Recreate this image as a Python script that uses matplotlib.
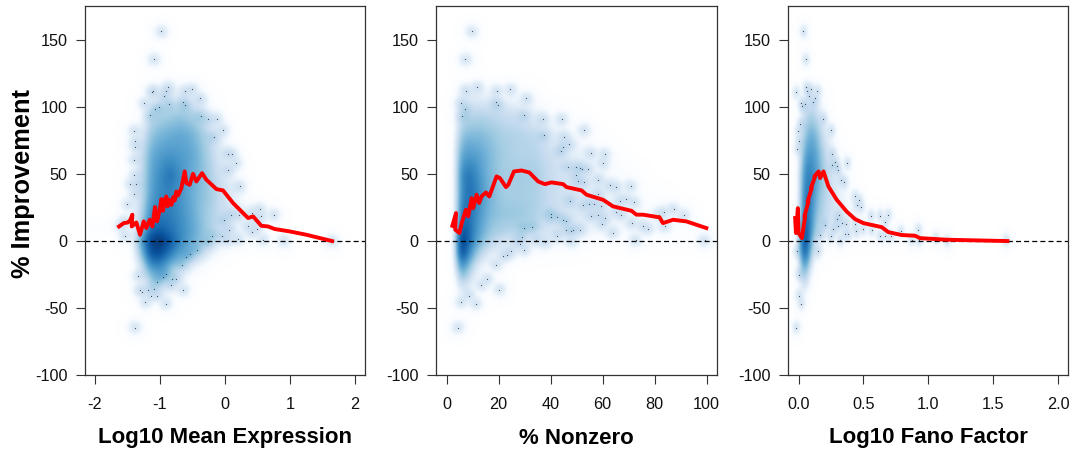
import numpy as np
import matplotlib
matplotlib.use('Agg')
import matplotlib.pyplot as plt
from matplotlib.colors import LinearSegmentedColormap

plt.rcParams['font.family'] = ['Liberation Sans', 'DejaVu Sans']
plt.rcParams['axes.unicode_minus'] = False

# shade of the smoothed scatter (percent of colour ramp)
rows = [125, 110, 95, 80, 65, 50, 35, 20, 8, 0, -10, -20, -30, -40, -50, -62]

mean_cols = [-1.6, -1.45, -1.3, -1.15, -1.0, -0.85, -0.7, -0.55, -0.4, -0.25, -0.1, 0.05, 0.2, 0.35, 0.5, 0.7, 0.9]
mean_cells = [
    [],
    [0, 0, 0, 12, 18, 20, 18, 16, 12, 3],
    [0, 0, 8, 32, 40, 42, 45, 42, 35, 20, 8],
    [0, 0, 18, 46, 52, 55, 58, 55, 48, 35, 20, 8],
    [0, 0, 28, 55, 62, 65, 62, 60, 52, 40, 26, 15, 6],
    [0, 0, 30, 58, 68, 78, 68, 58, 52, 43, 30, 20, 10],
    [0, 5, 30, 60, 70, 72, 66, 58, 50, 45, 35, 26, 15, 6],
    [0, 10, 35, 68, 74, 74, 68, 60, 50, 42, 33, 26, 20, 14, 10, 6],
    [5, 10, 45, 80, 85, 78, 70, 62, 52, 42, 32, 22, 14, 10, 8, 5],
    [0, 8, 60, 95, 100, 88, 72, 60, 50, 38, 25, 15, 10, 8, 6],
    [0, 3, 45, 88, 90, 75, 60, 48, 35, 22, 10, 5],
    [0, 0, 25, 65, 68, 50, 35, 22, 12, 5],
    [0, 0, 10, 40, 45, 28, 15, 8],
    [0, 0, 3, 15, 18, 12, 6],
    [],
    [],
]

nonzero_cols = [2, 3.5, 5, 7, 10, 13, 17, 22, 28, 34, 40, 48, 56, 64, 72, 80, 90, 100, 104]
nonzero_cells = [
    [],
    [0, 8, 14, 18, 18, 16, 14, 10, 8, 4],
    [0, 18, 28, 34, 36, 38, 35, 32, 28, 18, 8, 3],
    [0, 25, 42, 50, 50, 50, 46, 40, 38, 35, 22, 12, 5],
    [0, 35, 55, 62, 62, 58, 50, 42, 38, 38, 30, 20, 12, 5],
    [0, 35, 65, 76, 74, 62, 50, 42, 42, 42, 32, 24, 16, 10, 5],
    [0, 35, 65, 76, 78, 65, 52, 42, 42, 40, 32, 26, 20, 15, 8, 3],
    [0, 35, 72, 80, 74, 62, 50, 46, 45, 40, 30, 25, 20, 15, 12, 10, 8],
    [0, 45, 88, 88, 72, 58, 45, 40, 38, 32, 25, 22, 15, 12, 10, 8, 5, 3],
    [0, 55, 100, 92, 70, 52, 38, 28, 20, 18, 15, 12, 8, 5, 5, 3, 3, 5],
    [0, 48, 95, 82, 55, 35, 20, 10, 8, 5, 3, 3],
    [0, 30, 68, 58, 35, 15, 8, 3],
    [0, 15, 40, 38, 18, 8, 3],
    [0, 5, 15, 15, 8, 3],
    [],
    [],
]

fano_cols = [-0.03, -0.01, 0.01, 0.03, 0.05, 0.08, 0.11, 0.14, 0.18, 0.22, 0.27, 0.33, 0.4, 0.5, 0.6, 0.7, 0.85]
fano_cells = [
    [],
    [0, 0, 5, 10, 14, 16, 16, 12, 6, 3],
    [0, 0, 14, 24, 34, 40, 40, 34, 18, 6],
    [0, 3, 20, 38, 48, 56, 56, 50, 32, 20, 8],
    [0, 5, 30, 52, 62, 66, 65, 58, 42, 30, 16, 6],
    [0, 8, 40, 62, 72, 76, 70, 60, 46, 36, 24, 12, 4],
    [0, 8, 40, 68, 80, 80, 65, 52, 42, 35, 26, 16, 8],
    [0, 10, 45, 75, 85, 78, 60, 45, 38, 32, 25, 20, 12, 8, 3],
    [0, 15, 60, 92, 95, 78, 52, 38, 28, 22, 18, 15, 12, 8, 5, 3],
    [0, 18, 70, 100, 100, 72, 42, 22, 15, 10, 8, 6, 5, 4, 3, 3],
    [0, 12, 55, 90, 92, 60, 25, 10, 5, 3],
    [0, 5, 35, 65, 68, 35, 10, 3],
    [0, 3, 20, 42, 42, 15, 3],
    [0, 0, 8, 20, 18, 5],
    [],
    [],
]

# outlying genes (the tiny dots)
mean_x = [-0.975, -1.09, -1.10, -1.12, -0.87, -0.91, -0.94, -1.24, -0.86, -1.01, -1.08, -1.15, -0.64, -0.61,
          -0.61, -0.51, -0.38, -0.37, -0.26, -0.125, -0.03, -0.165, -1.40, -1.385, -1.385, -1.4, -1.39, -1.45,
          -1.37, -1.40, -1.50, 0.05, 0.11, 0.17, 0.055, 0.23, 0.09, 0.21, -0.01, 0.07, 0.42, 0.535, 0.56, 0.485,
          0.36, 0.495, 0.42, 0.756, 0.587, 0.91, 0.2, 0.05, -0.05, -0.19, -0.26, -0.43, -0.53, -0.59, -0.66,
          -1.33, -0.91, -0.95, -1.05, -0.81, -0.745, -0.82, -1.31, -1.28, -1.18, -1.09, -1.14, -1.04, -1.22,
          -0.91, -0.64, -1.385, -1.54, 1.65, -1.6, -1.55]
mean_y = [156.7, 135.8, 112.4, 111, 115, 112, 108, 103, 102.5, 100, 98.5, 94, 103.5, 101.5,
          111.7, 113.4, 106.5, 93.5, 91.3, 91.3, 83, 77.6, 82.3, 74.4, 70, 60.7, 49.5, 42.5,
          42.5, 35.3, 27.4, 65.2, 64.7, 58.2, 53.2, 40.8, 19.6, 19.6, 15.4, 8.5, 21, 23.9, 18.4, 16,
          11, 9.2, 6.5, 19.6, 1, 0, 1.5, 1, 3.5, 3.5, -1, -6.5, -10, -12, -17.7,
          -26.4, -24.6, -27, -30.3, -28.4, -28.4, -32.8, -36.3, -38.3, -36.3, -35.8, -40.8, -40.8, -45.8,
          -46.8, -36.8, -64.7, 4, 0, 11, 15]

nonzero_x = [9.6, 7.2, 7.3, 11.8, 19.2, 24.5, 30.7, 5.4, 7, 5.9, 18.8, 19.7, 29.8, 36.9, 44.2, 52.9, 37.4, 45.2,
             47.1, 44.6, 43.8, 55.4, 60.8, 60.2, 46.5, 49.7, 51.2, 52.2, 54.2, 49.7, 50.6, 52.8, 58.4, 62.7, 65.3,
             70.8, 58.3, 69, 66.8, 72.1, 47.6, 54.8, 56.7, 52.5, 59.5, 65.3, 67.2, 55.7, 58.3, 60.8, 59.8, 71.4,
             75.5, 77.5, 40, 40, 42.6, 44.8, 46.1, 46.1, 48.7, 48, 51.2, 42.5, 63.8, 29.7, 33, 28.9, 26.9, 28.4,
             29.7, 24.7, 23.3, 21.8, 19, 15.6, 13.4, 20.2, 8.6, 5.5, 11.1, 4.2, 34.3, 37.8, 48, 72.7, 99.2, 81.7,
             83.5, 83.9, 87.3, 91.3]
nonzero_y = [156.7, 135.8, 112.4, 115, 112.2, 113.2, 106.5, 103, 98.8, 93.5, 103.7, 101.7, 93.8, 91.3, 91.3, 83, 78.9, 77.6,
             72.4, 70.6, 66.9, 65.4, 64.9, 58.2, 55.5, 55.2, 54.5, 54, 53.5, 49, 44.5, 44, 45.8, 41.5, 40,
             40.8, 35.3, 31.3, 30, 28.9, 29.9, 28, 27.9, 26.6, 25.9, 22, 19.7, 19, 19.7, 17.2, 12.9, 13.4,
             11, 9.2, 20.4, 18, 18, 15.4, 14.7, 8, 8.5, 7.2, 8.5, 4, 6, 9.7, 10.4, 3, 0, -2.2,
             -6.7, -7.7, -10.2, -11.4, -17.7, -28.4, -33, -36.3, -40.8, -45.8, -46.8, -64.7, 1, -1, 0, 0.5, 0.5, 19.7,
             21.4, 11, 23.9, 19.2]

fano_x = [0.036, 0.054, -0.02, 0.059, 0.067, 0.095, 0.079, 0.146, 0.128, 0.11, 0.02, 0.049, 0.03, 0.192, 0.251, 0.015,
          -0.003, 0, -0.008, 0.261, 0.282, 0.374, 0.294, 0.261, 0.3, 0.328, 0.353, 0.435, 0.469, 0.448, 0.479, 0.312,
          0.294, 0.333, 0.366, 0.435, 0.2, 0.3, 0.269, 0.443, 0.494, 0.359, 0.384, 0.248, 0.166, 0.558, 0.627, 0.691,
          0.666, 0.563, 0.627, 0.666, 0.71, 0.786, 0.922, 0.32, 0.87, 0.927, 1.058, 1.145, 1.6, 0.149, -0.013, 0, 0,
          0.018, -0.02]
fano_y = [156.7, 135.8, 111.2, 115, 112.4, 113.4, 108.5, 112.2, 106.5, 104, 103, 102, 100.5, 91.3, 83, 87.6,
          82.3, 74.9, 69, 65, 58.7, 58.2, 55.7, 56.5, 52.7, 45.8, 44, 33.3, 30.3, 27, 25.4, 19.6,
          16.7, 13.4, 12.9, 12.9, 12, 11, 9, 7.2, 9, 5.2, 5.2, 3.5, 4.7, 19, 19, 19.7,
          14, 8.5, 4, 4, 3.5, 7.2, 8.5, 0.5, 1, 0.5, 2, 0, 0.5, -7.7, -7.7, -25, -40.8,
          -46.8, -64.7]

# running mean (red line)
mean_line_x = [-1.626, -1.554, -1.488, -1.452, -1.421, -1.431, -1.36, -1.303, -1.247, -1.206, -1.155, -1.114, -1.073,
               -1.042, -1.011, -0.975, -0.95, -0.93, -0.899, -0.88, -0.858, -0.82, -0.79, -0.77, -0.745, -0.72, -0.668,
               -0.617, -0.591, -0.54, -0.489, -0.438, -0.35, -0.284, -0.13, -0.028, 0.126, 0.357, 0.434, 0.561, 0.664,
               0.766, 0.997, 1.253, 1.648]
mean_line_y = [10.9, 13.4, 13.9, 15.9, 19.7, 10.9, 13.9, 4.7, 14.7, 9.7, 15.9, 10.9, 25.4,
               14.7, 20.9, 31.3, 22.6, 30, 33.3, 26, 30.9, 27, 33, 30.3, 37, 34, 39.6,
               52, 43.3, 42, 50.2, 44.5, 50.7, 45.8, 38.8, 37.8, 28.4, 17.2, 18.4, 11.4, 10.9,
               9, 7.2, 4.7, 0]

nonzero_line_x = [2.2, 3.6, 3.3, 4.9, 5.8, 7.4, 8.3, 9.6, 10.2, 11.5, 12.5, 13.4, 15.1, 16.4, 19.2, 20.5, 22.8, 23.7,
                  25.9, 28.8, 31.8, 35.2, 37.8, 40.3, 44.8, 46.1, 51.9, 53.8, 60.2, 64, 71.1, 73, 75.5, 81.9, 83.2,
                  87.1, 92.2, 99.9]
nonzero_line_y = [11.4, 20.9, 8.5, 6, 13.4, 23.4, 18.4, 32, 24.6, 34.6, 28.4, 33.3, 36.3, 33.3, 48.3, 47, 40.3, 42,
                  52, 52.7, 51.2, 44.5, 42.5, 43.8, 42.5, 40.3, 37.8, 34.6, 30.8, 25.9, 22.6, 19.7, 19.7, 17.7, 13.4,
                  15.9, 14.7, 9.7]

fano_line_x = [-0.026, -0.02, -0.005, 0, 0.026, 0.051, 0.045, 0.077, 0.07, 0.102, 0.095, 0.128, 0.122, 0.154, 0.166,
               0.192, 0.23, 0.294, 0.371, 0.435, 0.499, 0.64, 0.691, 0.794, 0.896, 0.935, 1.14, 1.37, 1.608]
fano_line_y = [17.2, 6, 24.6, 6, 2.2, 18.4, 18.4, 29.6, 29.6, 39.6, 39.6, 48.3, 48.3, 52, 47,
               52, 40.8, 30.8, 22, 16.4, 13.4, 10.4, 6.7, 4.5, 4, 2.2, 1, 0.5, 0]

y_ticks = [-100, -50, 0, 50, 100, 150]
mean_ticks = [-2, -1, 0, 1, 2]
nonzero_ticks = [0, 20, 40, 60, 80, 100]
fano_ticks = [0.0, 0.5, 1.0, 1.5, 2.0]
fano_labels = ['0.0', '0.5', '1.0', '1.5', '2.0']

W, H = 1072, 451
ramp = LinearSegmentedColormap.from_list('ramp', ['#FFFFFF', '#F7FBFF', '#DEEBF7', '#C6DBEF', '#9ECAE1', '#6BAED6',
                                                  '#4292C6', '#2171B5', '#08519C', '#08306B'])


def blur(img, sigma):
    t = np.arange(-int(3 * sigma), int(3 * sigma) + 1)
    kern = np.exp(-0.5 * (t / sigma) ** 2)
    kern = kern / kern.sum()
    img = np.apply_along_axis(lambda v: np.convolve(v, kern, mode='same'), 0, img)
    img = np.apply_along_axis(lambda v: np.convolve(v, kern, mode='same'), 1, img)
    return img


def density(cols, cells, bx, by, xlim, ylim, nx, ny, sig_x, sig_y):
    table = np.array([r + [0] * (len(cols) - len(r)) for r in cells], float) / 100.
    gx = np.linspace(xlim[0], xlim[1], nx)
    gy = np.linspace(ylim[0], ylim[1], ny)
    # rows run from top to bottom, np.interp wants them rising
    by_row = np.array([np.interp(gx, cols, r) for r in table[::-1]])
    img = np.array([np.interp(gy, rows[::-1], by_row[:, i]) for i in range(nx)]).T
    img = blur(img, 3.5)
    sx = sig_x * (xlim[1] - xlim[0]) / nx
    sy = sig_y * (ylim[1] - ylim[0]) / ny
    bumps = np.zeros_like(img)
    for a, b in zip(bx, by):
        bumps += np.exp(-0.5 * ((gx[None, :] - a) / sx) ** 2 - 0.5 * ((gy[:, None] - b) / sy) ** 2)
    # same kind of compression smoothScatter does, so clusters do not pile up
    bumps = 0.25 * bumps ** 0.3
    return np.clip(np.hypot(img, bumps), 0, 1)


def panel(box, xlim, cols, cells, bx, by, lx, ly, ticks, labels, xlabel, sig_x):
    left, right, top, bottom = box
    ax = fig.add_axes([left / W, 1 - bottom / H, (right - left) / W, (bottom - top) / H])
    ylim = (-100, 175.5)
    img = density(cols, cells, bx, by, xlim, ylim, right - left, bottom - top, sig_x, 3.6)
    ax.imshow(img, extent=[xlim[0], xlim[1], ylim[0], ylim[1]], origin='lower', aspect='auto',
              cmap=ramp, vmin=0, vmax=1, interpolation='bilinear')
    ax.scatter(bx, by, s=0.7, c='black', linewidths=0, alpha=0.7)
    ax.axhline(0, color='black', lw=0.9, ls=(0, (4, 2.5)))
    ax.plot(lx, ly, color='red', lw=2.8, solid_joinstyle='round')
    ax.set_xlim(xlim)
    ax.set_ylim(ylim)
    ax.set_xticks(ticks)
    ax.set_xticklabels(labels)
    ax.set_yticks(y_ticks)
    ax.tick_params(length=6.5, width=0.8, labelsize=11.7, color='#333333', labelcolor='#111111', pad=6)
    ax.tick_params(axis='x', pad=9)
    for s in ax.spines.values():
        s.set_linewidth(0.9)
        s.set_color('#333333')
    fig.text((left + right) / 2 / W, 1 - 443.5 / H, xlabel, fontsize=16, fontweight='bold',
             ha='center', va='baseline')
    return ax


fig = plt.figure(figsize=(W / 100, H / 100), dpi=100)
panel((85, 365, 6, 375), (-2.149, 2.154), mean_cols, mean_cells, mean_x, mean_y, mean_line_x, mean_line_y,
      mean_ticks, [str(t) for t in mean_ticks], 'Log10 Mean Expression', 3.6)
panel((436, 717, 6, 375), (-4.1, 104), nonzero_cols, nonzero_cells, nonzero_x, nonzero_y, nonzero_line_x,
      nonzero_line_y, nonzero_ticks, [str(t) for t in nonzero_ticks], '% Nonzero', 3.6)
panel((788, 1068, 6, 375), (-0.081, 2.074), fano_cols, fano_cells, fano_x, fano_y, fano_line_x, fano_line_y,
      fano_ticks, fano_labels, 'Log10 Fano Factor', 2.2)
fig.text(23 / W, 1 - 183 / H, '% Improvement', rotation=90, fontsize=18.3, fontweight='bold', ha='center', va='center')

fig.savefig('out.png', dpi=100)
